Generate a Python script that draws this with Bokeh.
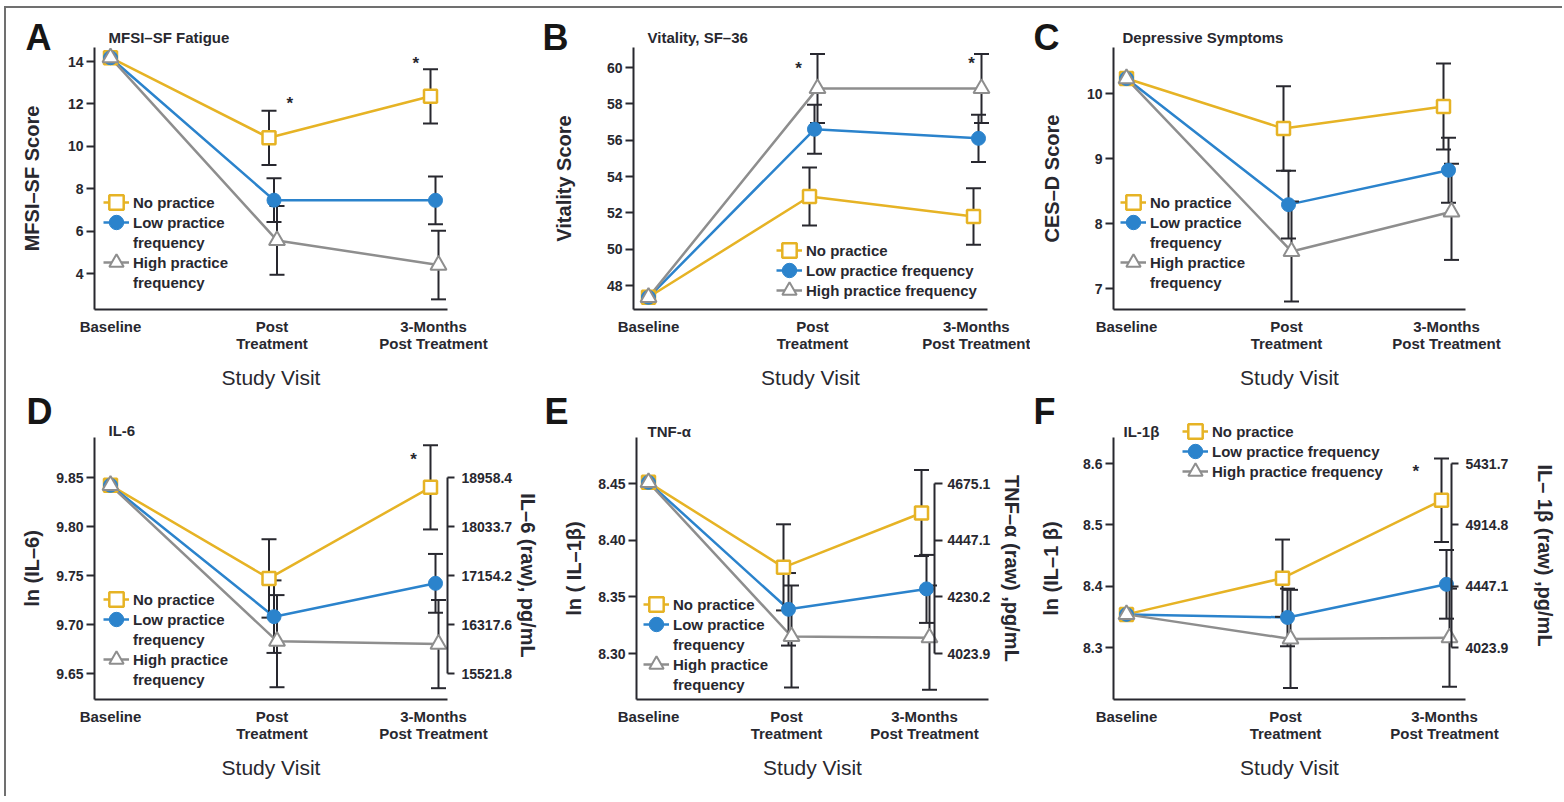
from bokeh.plotting import figure
from bokeh.models import Range1d, FixedTicker, LinearAxis, Legend, LegendItem, Label
from bokeh.layouts import row, column
from bokeh.embed import file_html
from bokeh.resources import INLINE
from bokeh.core.properties import value

# ---------------- data ----------------
VISITS = [0, 1, 2]
VISIT_LABELS = ["Baseline", "Post\nTreatment", "3-Months\nPost Treatment"]

# Panel A: MFSI-SF Fatigue
A_NO = [14.18, 10.40, 12.36]
A_NO_ERR = [0.0, 1.28, 1.28]
A_LOW = [14.18, 7.46, 7.45]
A_LOW_ERR = [0.0, 1.03, 1.13]
A_HIGH = [14.18, 5.56, 4.40]
A_HIGH_ERR = [0.0, 1.62, 1.62]
A_YTICKS = [4, 6, 8, 10, 12, 14]
A_STAR_X = [1.11, 1.89]
A_STAR_Y = [12.0, 13.9]

# Panel B: Vitality, SF-36
B_NO = [47.35, 52.9, 51.8]
B_NO_ERR = [0.0, 1.6, 1.55]
B_LOW = [47.35, 56.6, 56.1]
B_LOW_ERR = [0.0, 1.35, 1.3]
B_HIGH = [47.35, 58.85, 58.85]
B_HIGH_ERR = [0.0, 1.9, 1.9]
B_YTICKS = [48, 50, 52, 54, 56, 58, 60]
B_STAR_X = [0.915, 1.97]
B_STAR_Y = [59.95, 60.2]

# Panel C: Depressive Symptoms
C_NO = [10.23, 9.46, 9.80]
C_NO_ERR = [0.0, 0.65, 0.66]
C_LOW = [10.23, 8.29, 8.82]
C_LOW_ERR = [0.0, 0.52, 0.50]
C_HIGH = [10.23, 7.57, 8.18]
C_HIGH_ERR = [0.0, 0.77, 0.74]
C_YTICKS = [7, 8, 9, 10]
C_STAR_X = []
C_STAR_Y = []

# Panel D: IL-6
D_NO = [9.842, 9.747, 9.840]
D_NO_ERR = [0.0, 0.040, 0.043]
D_LOW = [9.842, 9.708, 9.742]
D_LOW_ERR = [0.0, 0.037, 0.030]
D_HIGH = [9.842, 9.683, 9.680]
D_HIGH_ERR = [0.0, 0.047, 0.045]
D_YTICKS = [9.65, 9.70, 9.75, 9.80, 9.85]
D_YLABELS = ["9.65", "9.70", "9.75", "9.80", "9.85"]
D_RAW_LABELS = ["15521.8", "16317.6", "17154.2", "18033.7", "18958.4"]
D_STAR_X = [1.876]
D_STAR_Y = [9.868]

# Panel E: TNF-alpha
E_NO = [8.451, 8.376, 8.424]
E_NO_ERR = [0.0, 0.038, 0.038]
E_LOW = [8.451, 8.339, 8.357]
E_LOW_ERR = [0.0, 0.032, 0.030]
E_HIGH = [8.451, 8.315, 8.314]
E_HIGH_ERR = [0.0, 0.045, 0.046]
E_YTICKS = [8.30, 8.35, 8.40, 8.45]
E_YLABELS = ["8.30", "8.35", "8.40", "8.45"]
E_RAW_LABELS = ["4023.9", "4230.2", "4447.1", "4675.1"]
E_STAR_X = []
E_STAR_Y = []

# Panel F: IL-1beta
F_NO = [8.354, 8.413, 8.540]
F_NO_ERR = [0.0, 0.063, 0.068]
F_LOW = [8.354, 8.349, 8.403]
F_LOW_ERR = [0.0, 0.047, 0.056]
F_HIGH = [8.354, 8.314, 8.316]
F_HIGH_ERR = [0.0, 0.080, 0.080]
F_YTICKS = [8.3, 8.4, 8.5, 8.6]
F_YLABELS = ["8.3", "8.4", "8.5", "8.6"]
F_RAW_LABELS = ["4023.9", "4447.1", "4914.8", "5431.7"]
F_STAR_X = [1.82]
F_STAR_Y = [8.587]

# ---------------- style ----------------
FONT = "Liberation Sans"
INK = "#28282f"
GOLD = "#E6B325"
BLUE = "#2B83CC"
GRAY = "#8E8E8E"
DODGE_PX = {"no": -3, "low": 2, "high": 5}
LGW, LGH = 26, 20      # line legend glyph box
MGB = 36               # marker legend glyph box (marker size = 0.4 * box)

WRAPPED_ROWS = [("No practice", "no"), ("Low practice", "low"), ("frequency", None),
                ("High practice", "high"), ("frequency", None)]
SINGLE_ROWS = [("No practice", "no"), ("Low practice frequency", "low"),
               ("High practice frequency", "high")]

# layout specs in page pixels (figure rect, axis frame, x/y calibration)
SPECS = {
    "A": dict(fig=(6, 8, 534, 382), frame=(94, 47, 447, 309), xb=110, xs=161.5,
              ycal=((14, 61), (4, 273)), ylab_so=22, legend=(133, 202, 20),
              letter=(25, 37), title=(108, 37)),
    "B": dict(fig=(540, 8, 490, 382), frame=(633, 47, 987, 309), xb=648, xs=164,
              ycal=((60, 67), (48, 285)), ylab_so=29, legend=(806, 250, 20),
              letter=(542, 37), title=(647, 37)),
    "C": dict(fig=(1030, 8, 532, 382), frame=(1113, 47, 1465, 309), xb=1126, xs=160,
              ycal=((10, 93), (7, 288)), ylab_so=21, legend=(1150, 202, 20),
              letter=(1033, 37), title=(1122, 37)),
    "D": dict(fig=(6, 390, 537, 406), frame=(94, 437, 447, 699), xb=110, xs=161.5,
              ycal=((9.85, 477), (9.65, 673)), ylab_so=10, legend=(133, 599, 20),
              letter=(26, 411), title=(108, 430), raxis=447, rlab_so=2, rtick=7, rso=7),
    "E": dict(fig=(543, 390, 485, 406), frame=(636, 437, 988, 699), xb=648, xs=138,
              ycal=((8.45, 483), (8.30, 653)), ylab_so=10, legend=(673, 604, 20),
              letter=(544, 411), title=(647, 431), raxis=934, rlab_so=8, rtick=8, rso=5),
    "F": dict(fig=(1028, 390, 534, 406), frame=(1113, 437, 1465, 699), xb=1126, xs=159,
              ycal=((8.6, 463), (8.3, 647)), ylab_so=18, legend=(1212, 431, 20),
              letter=(1033, 411), title=(1123, 431), raxis=1451, rlab_so=23, rtick=7, rso=7),
}


def px_x(s, px):
    return (px - s["xb"]) / s["xs"]


def px_y(s, py):
    (v1, p1), (v2, p2) = s["ycal"]
    return v1 + (py - p1) * (v2 - v1) / (p2 - p1)


def style_axis(ax, tick_out, so, font_px, lab_font_px, lab_style, lab_so):
    ax.major_tick_out = tick_out
    ax.major_tick_in = 0
    ax.minor_tick_out = 0
    ax.minor_tick_in = 0
    ax.major_tick_line_width = 2
    ax.major_tick_line_color = INK
    ax.major_label_standoff = so
    ax.major_label_text_font = FONT
    ax.major_label_text_font_size = font_px
    ax.major_label_text_font_style = "bold"
    ax.major_label_text_color = INK
    ax.axis_line_width = 2
    ax.axis_line_color = INK
    ax.axis_label_text_font = FONT
    ax.axis_label_text_font_size = lab_font_px
    ax.axis_label_text_font_style = lab_style
    ax.axis_label_text_color = INK
    ax.axis_label_standoff = lab_so


def make_panel(key, series, yticks, ylabels, ylabel, title, rows, star_x, star_y,
               raw_labels=None, rlabel=None):
    s = SPECS[key]
    fl, ft, W, H = s["fig"]
    L, T, R, B = s["frame"]
    p = figure(width=W, height=H, title=None,
               x_range=Range1d(px_x(s, fl), px_x(s, fl + W)),
               y_range=Range1d(px_y(s, ft + H), px_y(s, ft)),
               output_backend="svg", toolbar_location=None,
               min_border_left=0, min_border_right=0, min_border_top=0, min_border_bottom=0)
    p.outline_line_color = None
    p.grid.visible = False
    p.background_fill_color = "white"
    p.border_fill_color = "white"

    # x axis (drawn at the frame bottom of the reference layout)
    xa = p.xaxis[0]
    xa.ticker = FixedTicker(ticks=VISITS)
    xa.major_label_overrides = {v: lab for v, lab in zip(VISITS, VISIT_LABELS)}
    xa.fixed_location = px_y(s, B)
    xa.bounds = (px_x(s, L), px_x(s, R))
    style_axis(xa, 0, 8, "15px", "21px", "normal", 11)
    xa.major_tick_line_color = None
    xa.major_label_text_line_height = 1.05
    xa.axis_label = "Study Visit"

    # left y axis
    ya = p.yaxis[0]
    ya.ticker = FixedTicker(ticks=yticks)
    ya.major_label_overrides = {t: l for t, l in zip(yticks, ylabels)}
    ya.fixed_location = px_x(s, L)
    ya.bounds = (px_y(s, B), px_y(s, T))
    style_axis(ya, 8, 3, "14px", "20px", "bold", s["ylab_so"])
    ya.axis_label = ylabel

    # right raw-value axis
    if raw_labels is not None:
        ra = LinearAxis(ticker=FixedTicker(ticks=yticks),
                        major_label_overrides={t: l for t, l in zip(yticks, raw_labels)},
                        bounds=(min(yticks), max(yticks)),
                        fixed_location=px_x(s, s["raxis"]))
        style_axis(ra, s["rtick"], s["rso"], "14px", "20px", "bold", s["rlab_so"])
        ra.axis_label = rlabel
        p.add_layout(ra, "right")

    # series
    line_r, mark_r, pos = {}, {}, {}
    for k, vals, errs, color, marker, fill, size, lw in series:
        dx = DODGE_PX[k] / s["xs"]
        xs = [v + (dx if v > 0 else 0.0) for v in VISITS]
        pos[k] = xs
        line_r[k] = p.line(xs, vals, line_color=color, line_width=2.5)
    for k, vals, errs, color, marker, fill, size, lw in series:
        xs = pos[k]
        ex = [x for x, e in zip(xs, errs) if e > 0]
        lo = [v - e for v, e in zip(vals, errs) if e > 0]
        hi = [v + e for v, e in zip(vals, errs) if e > 0]
        p.segment(x0=ex, y0=lo, x1=ex, y1=hi, line_color=INK, line_width=2)
        p.scatter(ex + ex, lo + hi, marker="dash", size=15, line_color=INK, line_width=2)
    for k, vals, errs, color, marker, fill, size, lw in series:
        mark_r[k] = p.scatter(pos[k], vals, marker=marker, size=size, fill_color=fill,
                              line_color=color, line_width=lw)

    # significance asterisks
    if star_x:
        p.text(x=star_x, y=star_y, text=["*"] * len(star_x), text_font=value(FONT),
               text_font_size="17px", text_font_style="bold", text_align="center",
               text_baseline="middle", text_color=INK)

    # legend: one legend for lines + labels, one small legend per marker
    tl, c1, pitch = s["legend"]
    fb = ft + H
    n = len(rows)
    items = [LegendItem(label=lab, renderers=([line_r[k]] if k is not None else []))
             for lab, k in rows]
    top = c1 - LGH / 2
    leg = Legend(items=items, location=(tl - 4 - LGW - fl, fb - (top + n * LGH + (n - 1) * (pitch - LGH))),
                 orientation="vertical", glyph_width=LGW, glyph_height=LGH,
                 label_standoff=4, spacing=pitch - LGH, padding=0, margin=0,
                 border_line_color=None, background_fill_alpha=0,
                 label_text_font=FONT, label_text_font_size="15px",
                 label_text_font_style="bold", label_text_color=INK,
                 label_height=LGH)
    p.add_layout(leg)
    gcx = tl - 4 - LGW / 2
    for i, (lab, k) in enumerate(rows):
        if k is None:
            continue
        cy = c1 + i * pitch
        mleg = Legend(items=[LegendItem(label=" ", renderers=[mark_r[k]])],
                      location=(gcx - MGB / 2 - fl, fb - (cy + MGB / 2)),
                      glyph_width=MGB, glyph_height=MGB, label_standoff=0, padding=0,
                      margin=0, border_line_color=None, background_fill_alpha=0,
                      label_text_font_size="1px", label_height=MGB, label_width=0)
        p.add_layout(mleg)

    # panel letter and title
    lxp, lyp = s["letter"]
    p.add_layout(Label(x=px_x(s, lxp), y=px_y(s, lyp), text=key, text_font=FONT,
                       text_font_size="36px", text_font_style="bold", text_color="#161616",
                       text_align="left", text_baseline="middle"))
    txp, typ = s["title"]
    p.add_layout(Label(x=px_x(s, txp), y=px_y(s, typ), text=title, text_font=FONT,
                       text_font_size="15px", text_font_style="bold", text_color=INK,
                       text_align="left", text_baseline="middle"))
    return p


def series_of(no, no_e, low, low_e, high, high_e):
    return [
        ("no", no, no_e, GOLD, "square", "white", 13, 2.5),
        ("low", low, low_e, BLUE, "circle", BLUE, 14, 1),
        ("high", high, high_e, GRAY, "triangle", "white", 16, 2),
    ]


pA = make_panel("A", series_of(A_NO, A_NO_ERR, A_LOW, A_LOW_ERR, A_HIGH, A_HIGH_ERR),
                A_YTICKS, [str(t) for t in A_YTICKS], "MFSI–SF Score", "MFSI–SF Fatigue",
                WRAPPED_ROWS, A_STAR_X, A_STAR_Y)
pB = make_panel("B", series_of(B_NO, B_NO_ERR, B_LOW, B_LOW_ERR, B_HIGH, B_HIGH_ERR),
                B_YTICKS, [str(t) for t in B_YTICKS], "Vitality Score", "Vitality, SF–36",
                SINGLE_ROWS, B_STAR_X, B_STAR_Y)
pC = make_panel("C", series_of(C_NO, C_NO_ERR, C_LOW, C_LOW_ERR, C_HIGH, C_HIGH_ERR),
                C_YTICKS, [str(t) for t in C_YTICKS], "CES–D Score", "Depressive Symptoms",
                WRAPPED_ROWS, C_STAR_X, C_STAR_Y)
pD = make_panel("D", series_of(D_NO, D_NO_ERR, D_LOW, D_LOW_ERR, D_HIGH, D_HIGH_ERR),
                D_YTICKS, D_YLABELS, "ln (IL–6)", "IL-6",
                WRAPPED_ROWS, D_STAR_X, D_STAR_Y, D_RAW_LABELS, "IL–6 (raw), pg/mL")
pE = make_panel("E", series_of(E_NO, E_NO_ERR, E_LOW, E_LOW_ERR, E_HIGH, E_HIGH_ERR),
                E_YTICKS, E_YLABELS, "ln ( IL–1β)", "TNF-α",
                WRAPPED_ROWS, E_STAR_X, E_STAR_Y, E_RAW_LABELS, "TNF–α (raw) ,pg/mL")
pF = make_panel("F", series_of(F_NO, F_NO_ERR, F_LOW, F_LOW_ERR, F_HIGH, F_HIGH_ERR),
                F_YTICKS, F_YLABELS, "ln (IL–1 β)", "IL-1β",
                SINGLE_ROWS, F_STAR_X, F_STAR_Y, F_RAW_LABELS, "IL– 1β (raw) ,pg/mL")

layout = column(row(pA, pB, pC), row(pD, pE, pF),
                styles={"margin-left": "4px", "margin-top": "6px",
                        "border-top": "2px solid #707070", "border-left": "2px solid #707070"})

open("out.html", "w").write(file_html(layout, INLINE))
